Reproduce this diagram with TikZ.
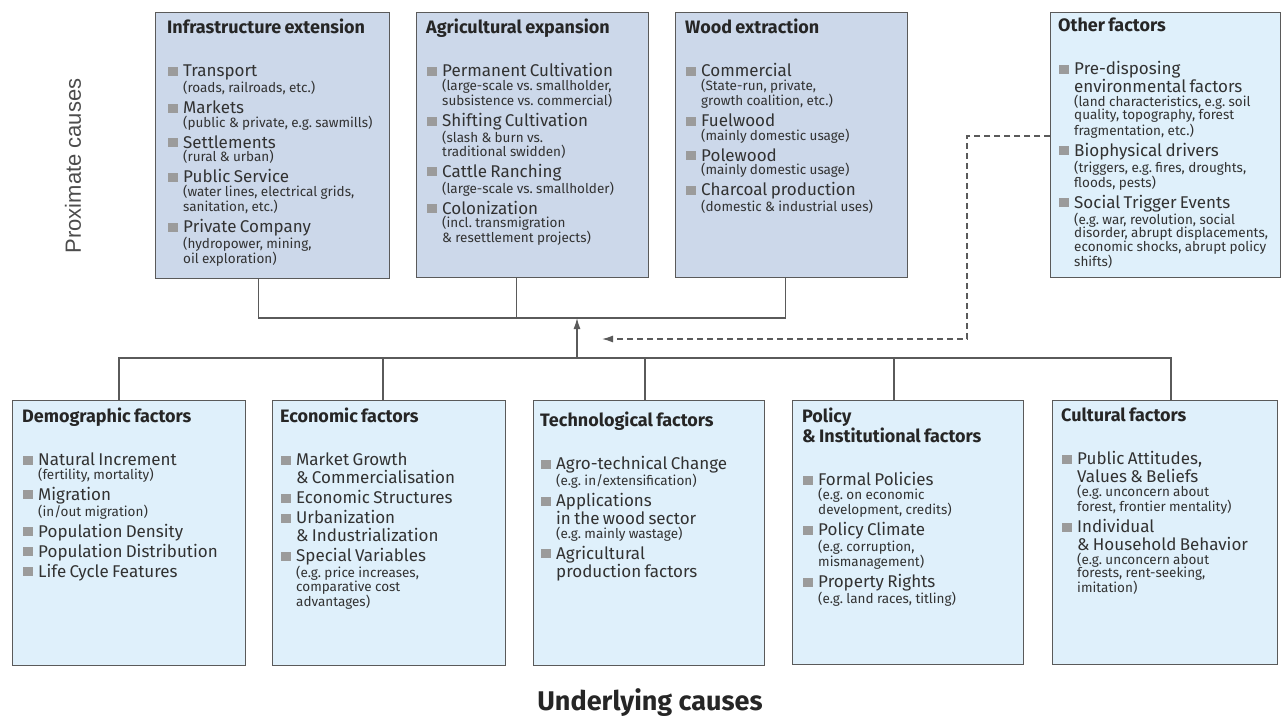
\documentclass[tikz,border=0pt]{standalone}
\usepackage{fontspec}
\setmainfont{Fira Sans}
\newfontfamily\arialfont{Liberation Sans}
\usepackage{xcolor}
\usepackage{tikz}
\usetikzlibrary{arrows.meta, calc}
\definecolor{proxfill}{RGB}{204,216,234}
\definecolor{undfill}{RGB}{223,240,251}
\definecolor{boxline}{RGB}{90,90,90}
\definecolor{txtgray}{RGB}{50,50,50}
\definecolor{bulgray}{RGB}{155,155,155}
\frenchspacing

\newcommand{\sqmark}{\textcolor{bulgray}{\rule[1pt]{10pt}{9pt}}}
\newcommand{\ttl}{\fontsize{18}{20}\selectfont\bfseries\color{black!85}}
\newcommand{\itm}[1]{\par\vspace{2pt}{\fontsize{17}{18}\selectfont\noindent\llap{\sqmark\hspace{5pt}}#1\par}}
\newcommand{\nte}[1]{{\fontsize{13.5}{13.5}\selectfont #1\par}\vspace{1pt}}
\newcommand{\items}{\par\vspace{23pt}\leftskip=16pt\parindent=0pt}

\begin{document}
\begin{tikzpicture}[
  x=1pt, y=-1pt,
  proxbox/.style={draw=boxline, fill=proxfill, line width=1.1pt, anchor=north west, inner sep=0pt},
  undbox/.style={proxbox, fill=undfill},
  boxtxt/.style={anchor=north west, inner sep=0pt, align=left, text=txtgray},
  link/.style={draw=boxline, line width=1.3pt},
  dashlink/.style={link, dash pattern=on 6pt off 4pt},
]
  \useasboundingbox (0,0) rectangle (1283,717);

  % proximate causes
  \node[proxbox, minimum width=234pt, minimum height=266pt] (infra) at (155,12) {};
  \node[boxtxt, text width=224pt] (infratxt) at ([shift={(12pt,-7pt)}]infra.north west) {%
    {\ttl Infrastructure extension\par}\items
    \itm{Transport}\nte{(roads, railroads, etc.)}
    \itm{Markets}\nte{(public \& private, e.g. sawmills)}
    \itm{Settlements}\nte{(rural \& urban)}
    \itm{Public Service}\nte{(water lines, electrical grids,\\sanitation, etc.)}
    \itm{Private Company}\nte{(hydropower, mining,\\oil exploration)}};

  \node[proxbox, minimum width=232pt, minimum height=265pt] (agri) at (416,12) {};
  \node[boxtxt, text width=222pt] (agritxt) at ([shift={(10pt,-7pt)}]agri.north west) {%
    {\ttl Agricultural expansion\par}\items
    \itm{Permanent Cultivation}\nte{(large-scale vs. smallholder,\\subsistence vs. commercial)}
    \itm{Shifting Cultivation}\nte{(slash \& burn vs.\\traditional swidden)}
    \itm{Cattle Ranching}\nte{(large-scale vs. smallholder)}
    \itm{Colonization}\nte{(incl. transmigration\\\& resettlement projects)}};

  \node[proxbox, minimum width=232pt, minimum height=265pt] (wood) at (675,12) {};
  \node[boxtxt, text width=222pt] (woodtxt) at ([shift={(10pt,-7pt)}]wood.north west) {%
    {\ttl Wood extraction\par}\items
    \itm{Commercial}\nte{(State-run, private,\\growth coalition, etc.)}
    \itm{Fuelwood}\nte{(mainly domestic usage)}
    \itm{Polewood}\nte{(mainly domestic usage)}
    \itm{Charcoal production}\nte{(domestic \& industrial uses)}};

  \node[undbox, minimum width=230pt, minimum height=265pt] (other) at (1050,12) {};
  \node[boxtxt, text width=224pt] (othertxt) at ([shift={(8pt,-6pt)}]other.north west) {%
    {\ttl Other factors\par}\items
    \itm{Pre-disposing\\environmental factors}\nte{(land characteristics, e.g. soil\\quality, topography, forest\\fragmentation, etc.)}
    \itm{Biophysical drivers}\nte{(triggers, e.g. fires, droughts,\\floods, pests)}
    \itm{Social Trigger Events}\nte{(e.g. war, revolution, social\\disorder, abrupt displacements,\\economic shocks, abrupt policy\\shifts)}};

  % underlying causes
  \node[undbox, minimum width=233pt, minimum height=265pt] (demo) at (12,400) {};
  \node[boxtxt, text width=224pt] (demotxt) at ([shift={(10pt,-8pt)}]demo.north west) {%
    {\ttl Demographic factors\par}\items
    \itm{Natural Increment}\nte{(fertility, mortality)}
    \itm{Migration}\nte{(in/out migration)}
    \itm{Population Density}
    \itm{Population Distribution}
    \itm{Life Cycle Features}};

  \node[undbox, minimum width=233pt, minimum height=265pt] (econ) at (272,400) {};
  \node[boxtxt, text width=224pt] (econtxt) at ([shift={(8pt,-8pt)}]econ.north west) {%
    {\ttl Economic factors\par}\items
    \itm{Market Growth\\\& Commercialisation}
    \itm{Economic Structures}
    \itm{Urbanization\\\& Industrialization}
    \itm{Special Variables}\nte{(e.g. price increases,\\comparative cost\\advantages)}};

  \node[undbox, minimum width=231pt, minimum height=265pt] (tech) at (533,400) {};
  \node[boxtxt, text width=224pt] (techtxt) at ([shift={(7pt,-12pt)}]tech.north west) {%
    {\ttl Technological factors\par}\items
    \itm{Agro-technical Change}\nte{(e.g. in/extensification)}
    \itm{Applications\\in the wood sector}\nte{(e.g. mainly wastage)}
    \itm{Agricultural\\production factors}};

  \node[undbox, minimum width=231pt, minimum height=264pt] (policy) at (792,400) {};
  \node[boxtxt, text width=222pt] (policytxt) at ([shift={(10pt,-8pt)}]policy.north west) {%
    {\ttl Policy\\\& Institutional factors\par}\items
    \itm{Formal Policies}\nte{(e.g. on economic\\development, credits)}
    \itm{Policy Climate}\nte{(e.g. corruption,\\mismanagement)}
    \itm{Property Rights}\nte{(e.g. land races, titling)}};

  \node[undbox, minimum width=225pt, minimum height=264pt] (cult) at (1052,400) {};
  \node[boxtxt, text width=218pt] (culttxt) at ([shift={(9pt,-8pt)}]cult.north west) {%
    {\ttl Cultural factors\par}\items
    \itm{Public Attitudes,\\Values \& Beliefs}\nte{(e.g. unconcern about\\forest, frontier mentality)}
    \itm{Individual\\\& Household Behavior}\nte{(e.g. unconcern about\\forests, rent-seeking,\\imitation)}};

  % connectors
  \coordinate (topbus) at (577,318);
  \coordinate (lowbus) at (577,358);
  \coordinate (dashturn) at (967,339);
  \coordinate (dashend) at (602,339);
  \draw[link] ([xshift=-14pt]infra.south) |- (topbus) -| ([xshift=-6pt]wood.south);
  \draw[link] ([xshift=-16pt]agri.south) -- ([xshift=-16pt]agri.south |- topbus);
  \draw[link] ([xshift=-10pt]demo.north) |- (lowbus) -| ([xshift=6pt]cult.north);
  \foreach \b/\s in {econ/-6pt, tech/-4pt, policy/-14pt}
    \draw[link] ([xshift=\s]\b.north) -- ([xshift=\s]\b.north |- lowbus);
  \draw[link, -{Latex[length=11pt, width=7pt]}] (lowbus) -- (topbus);
  \draw[dashlink, -{Latex[length=11pt, width=7pt]}] ([yshift=9pt]other.west) -| (dashturn) -- (dashend);

  % side and bottom labels
  \node[font=\arialfont\fontsize{22}{26}\selectfont, text=black!70, rotate=90] (proxlbl) at (73,166) {Proximate causes};
  \node[font=\fontsize{27}{30}\selectfont\bfseries, text=black!85] (undlbl) at (650,703) {Underlying causes};
\end{tikzpicture}
\end{document}
